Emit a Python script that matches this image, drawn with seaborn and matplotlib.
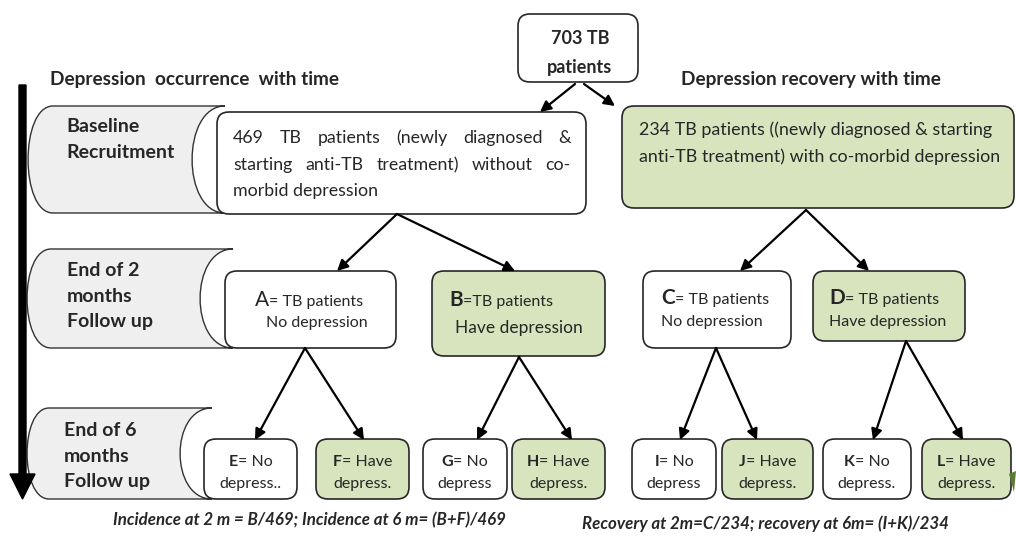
import matplotlib
matplotlib.use("Agg")
import matplotlib.pyplot as plt
import seaborn as sns
from matplotlib.patches import FancyBboxPatch, PathPatch, FancyArrow, Polygon
from matplotlib.path import Path
from matplotlib.offsetbox import TextArea, HPacker, AnnotationBbox

sns.set_theme(style="white")
plt.rcParams['font.family'] = ['Lato', 'DejaVu Sans']

# text content of the flow chart
root_lines = ["703 TB", "patients"]
left_title = "Depression  occurrence  with time"
right_title = "Depression recovery with time"
stage_labels = [["Baseline", "Recruitment"],
                ["End of 2", "months", "Follow up"],
                ["End of 6", "months", "Follow up"]]
no_dep_lines = ["469 TB patients (newly diagnosed &",
                "starting anti-TB treatment) without co-",
                "morbid depression"]
dep_lines = ["234 TB patients ((newly diagnosed & starting",
             "anti-TB treatment) with co-morbid depression"]
mid_letters = ["A", "B", "C", "D"]
mid_first = ["= TB patients", "=TB patients", "= TB patients", "= TB patients"]
mid_second = ["No depression", "Have depression", "No depression", "Have depression"]
leaf_letters = ["E", "F", "G", "H", "I", "J", "K", "L"]
leaf_first = ["= No", "= Have", "= No", "= Have", "= No", "= Have", "= No", "= Have"]
leaf_second = ["depress..", "depress.", "depress", "depress.", "depress", "depress.", "depress.", "depress."]
leaf_depressed = [False, True, False, True, False, True, False, True]
footer_left = "Incidence at 2 m = B/469; Incidence at 6 m= (B+F)/469"
footer_right = "Recovery at 2m=C/234; recovery at 6m= (I+K)/234"

GREEN = "#d7e4bd"
GREY = "#efefef"
EDGE = "#262626"

fig = plt.figure(figsize=(10.16, 5.38), dpi=100)
ax = fig.add_axes([0, 0, 1, 1])
ax.set_xlim(0, 1016)
ax.set_ylim(538, 0)
ax.axis("off")
renderer = fig.canvas.get_renderer()


def box(x0, y0, x1, y1, fill):
    ax.add_patch(FancyBboxPatch((x0, y0), x1 - x0, y1 - y0,
                                boxstyle="round,pad=0,rounding_size=12",
                                fc=fill, ec=EDGE, lw=1.2, zorder=3))


def stage(x0, x1, y0, y1, bl, br):
    k = 1.33
    verts = [(x0 + bl, y0), (x1, y0),
             (x1 - br * k, y0), (x1 - br * k, y1), (x1, y1),
             (x0 + bl, y1),
             (x0 + bl - bl * k, y1), (x0 + bl - bl * k, y0), (x0 + bl, y0),
             (x0 + bl, y0)]
    codes = [Path.MOVETO, Path.LINETO,
             Path.CURVE4, Path.CURVE4, Path.CURVE4,
             Path.LINETO,
             Path.CURVE4, Path.CURVE4, Path.CURVE4,
             Path.CLOSEPOLY]
    ax.add_patch(PathPatch(Path(verts, codes), fc=GREY, ec="#333333", lw=1, zorder=2))


def arrow(src, dst):
    ax.annotate("", xy=dst, xytext=src,
                arrowprops=dict(arrowstyle="-|>", color="black", lw=1.6,
                                mutation_scale=16, shrinkA=0, shrinkB=0), zorder=4)


def justify(line, x0, x1, y, size):
    words = line.split()
    texts = [ax.text(0, y, w, fontsize=size, va="center", zorder=6) for w in words]
    widths = [t.get_window_extent(renderer).width for t in texts]
    gap = (x1 - x0 - sum(widths)) / (len(words) - 1)
    x = x0
    for t, w in zip(texts, widths):
        t.set_x(x)
        x += w + gap


def two_part(x, y, first, rest, size1, size2, bold=True, align=(0.5, 0.5)):
    a = TextArea(first, textprops=dict(fontsize=size1, fontweight="bold" if bold else "normal"))
    b = TextArea(rest, textprops=dict(fontsize=size2))
    pack = HPacker(children=[a, b], align="baseline", pad=0, sep=0)
    ab = AnnotationBbox(pack, (x, y), box_alignment=align, frameon=False,
                        pad=0, zorder=6)
    ax.add_artist(ab)


# time arrow and stage labels
ax.add_patch(FancyArrow(22.5, 85, 0, 414, width=7, head_width=25, head_length=25,
                        length_includes_head=True, color="black", zorder=5))
stage(28, 225, 106, 213, 25, 33)
stage(27, 233, 249, 348, 24, 33)
stage(27, 212, 408, 499, 22, 32)
stage_pos = [(66, [127, 153]), (67, [270, 296, 322]), (64, [431, 456, 481])]
for lines, (sx, ys) in zip(stage_labels, stage_pos):
    for txt, yy in zip(lines, ys):
        ax.text(sx, yy, txt, fontsize=14, fontweight="bold", va="center", zorder=6)

ax.text(50, 80, left_title, fontsize=13.7, fontweight="bold", va="center")
ax.text(681, 80, right_title, fontsize=13.7, fontweight="bold", va="center")

# root
box(518, 14, 638, 82, "white")
ax.text(580, 38, root_lines[0], fontsize=13, fontweight="bold", ha="center", va="center", zorder=6)
ax.text(580, 68, root_lines[1], fontsize=13, fontweight="bold", ha="center", va="center", zorder=6)
arrow((575, 84), (540, 112))
arrow((584, 84), (615, 106))

# second level
box(217, 112, 586, 214, "white")
justify(no_dep_lines[0], 233, 571, 138, 12.8)
justify(no_dep_lines[1], 233, 571, 165, 12.8)
ax.text(233, 191, no_dep_lines[2], fontsize=12.8, va="center", zorder=6)

box(622, 106, 1014, 208, GREEN)
ax.text(639, 130, dep_lines[0], fontsize=12.9, va="center", zorder=6)
ax.text(639, 157, dep_lines[1], fontsize=12.9, va="center", zorder=6)

arrow((397, 214), (337, 271))
arrow((397, 214), (515, 271))
arrow((806, 210), (740, 271))
arrow((806, 210), (869, 271))

# third level
mid_boxes = [(225, 271, 396, 348), (432, 271, 605, 356), (643, 271, 791, 348), (813, 271, 965, 341)]
mid_fill = ["white", GREEN, "white", GREEN]
mid_text_x = [(255, 266), (449, 455), (661, 661), (829, 829)]
mid_text_y = [(300, 323), (300, 328), (298, 322), (298, 322)]
mid_second_size = [11.5, 12.5, 11.5, 11.5]
for i in range(4):
    box(*mid_boxes[i], mid_fill[i])
    tx1, tx2 = mid_text_x[i]
    ty1, ty2 = mid_text_y[i]
    two_part(tx1, ty1, mid_letters[i], mid_first[i], 15, 11.5,
             bold=(i != 0), align=(0, 0.5))
    ax.text(tx2, ty2, mid_second[i], fontsize=mid_second_size[i], va="center", zorder=6)

arrow((305, 348), (255, 440))
arrow((305, 348), (364, 440))
arrow((519, 357), (477, 440))
arrow((519, 357), (572, 440))
arrow((716, 348), (680, 440))
arrow((716, 348), (757, 440))
arrow((906, 341), (873, 440))
arrow((906, 341), (963, 440))

# leaves
leaf_x = [(204, 297), (316, 409), (423, 507), (512, 605),
          (632, 716), (722, 813), (823, 911), (922, 1011)]
for i in range(8):
    lx0, lx1 = leaf_x[i]
    box(lx0, 439, lx1, 499, GREEN if leaf_depressed[i] else "white")
    cx = (lx0 + lx1) / 2
    two_part(cx, 462, leaf_letters[i], leaf_first[i], 11.5, 11.5)
    ax.text(cx, 484, leaf_second[i], fontsize=11.5, ha="center", va="center", zorder=6)

ax.add_patch(Polygon([(1009, 474), (1016, 471), (1014, 492)], closed=True,
                     fc="#5b7a36", ec="none", zorder=6))

# footers
ax.text(309, 520, footer_left, fontsize=12.2, fontweight="bold", fontstyle="italic",
        ha="center", va="center")
ax.text(765, 524, footer_right, fontsize=12.2, fontweight="bold", fontstyle="italic",
        ha="center", va="center")

fig.savefig("out.png", dpi=100)
